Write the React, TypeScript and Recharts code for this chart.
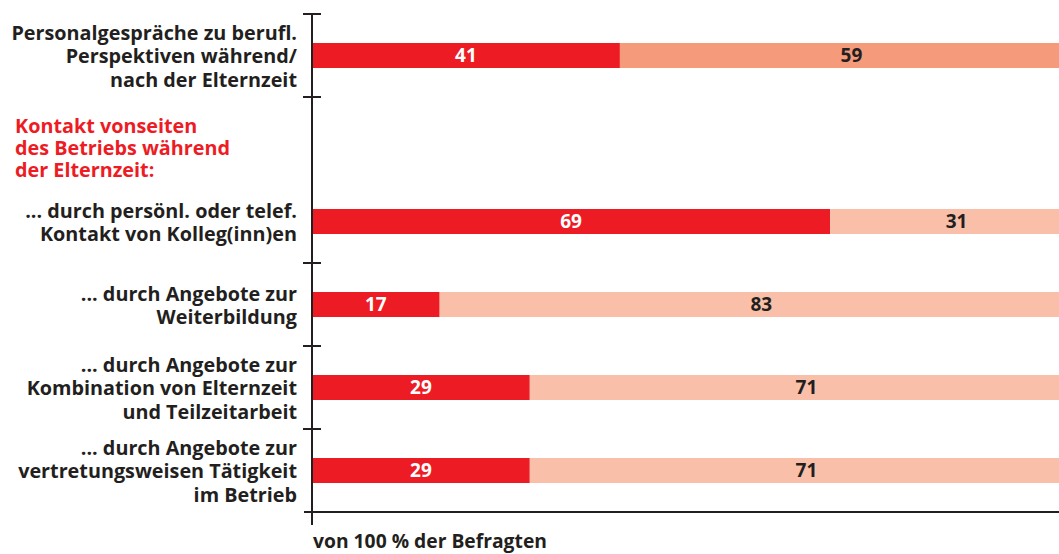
import React from 'react';
import { BarChart, Bar, XAxis, YAxis, Cell, LabelList, Label } from 'recharts';

const categories = [
  'Personalgespräche zu berufl.\nPerspektiven während/\nnach der Elternzeit',
  'Kontakt vonseiten\ndes Betriebs während\nder Elternzeit:',
  '... durch persönl. oder telef.\nKontakt von Kolleg(inn)en',
  '... durch Angebote zur\nWeiterbildung',
  '... durch Angebote zur\nKombination von Elternzeit\nund Teilzeitarbeit',
  '... durch Angebote zur\nvertretungsweisen Tätigkeit\nim Betrieb',
];
const yesValues: (number | null)[] = [41, null, 69, 17, 29, 29];
const noValues: (number | null)[] = [59, null, 31, 83, 71, 71];
const xAxisTitle = 'von 100 % der Befragten';

const data = categories.map((c, i) => ({ name: c, yes: yesValues[i], no: noValues[i] }));

const RED = '#ED1C24';
const SALMON_DARK = '#F69A7C';
const SALMON = '#F9BFA8';
const INK = '#231F20';
const FONT = '"Open Sans", "Noto Sans", sans-serif';

const CHART_W = 1063;
const CHART_H = 554;
const TOP = 14;
const X_AXIS_H = 42;
const Y_AXIS_W = 312;
const BAND = (CHART_H - TOP - X_AXIS_H) / categories.length;
const HEADER_INDEX = 1;
const NO_TOP_TICK = new Set([2]);

const YTick = (props: any) => {
  const { y, payload, index } = props;
  const ax = Y_AXIS_W;
  const lines = String(payload.value).split('\n');
  const isHeader = index === HEADER_INDEX;
  const lh = isHeader ? 22 : 23.5;
  const centerY = y + (isHeader ? 10 : 1);
  const startY = centerY - ((lines.length - 1) * lh) / 2;
  const isLast = index === categories.length - 1;
  const topY = y - BAND / 2;
  const botY = y + BAND / 2;
  return (
    <g>
      {!NO_TOP_TICK.has(index) && (
        <line x1={ax - 9} x2={ax + 9} y1={topY} y2={topY} stroke={INK} strokeWidth={2} />
      )}
      {isLast && (
        <g>
          <line x1={ax - 8} x2={ax + 9} y1={botY} y2={botY} stroke={INK} strokeWidth={2} />
          <line x1={ax} x2={ax} y1={botY} y2={botY + 13} stroke={INK} strokeWidth={2} />
        </g>
      )}
      {lines.map((l, i) => (
        <text
          key={i}
          x={isHeader ? 15 : ax - 15}
          y={startY + i * lh}
          dy="0.35em"
          textAnchor={isHeader ? 'start' : 'end'}
          fill={isHeader ? RED : INK}
          fontFamily={FONT}
          fontWeight={700}
          fontSize={19.8}
        >
          {l}
        </text>
      ))}
    </g>
  );
};

export default function App() {
  return (
    <div style={{ position: 'absolute', left: 0, top: 0, width: 1059, height: 554, overflow: 'hidden', background: '#fff' }}>
      <BarChart
        width={CHART_W}
        height={CHART_H}
        data={data}
        layout="vertical"
        margin={{ top: TOP, right: 0, left: 0, bottom: 0 }}
        barSize={25}
      >
        <XAxis
          type="number"
          domain={[0, 100]}
          ticks={[]}
          tick={false}
          tickLine={false}
          height={X_AXIS_H}
          axisLine={{ stroke: INK, strokeWidth: 2 }}
        >
          <Label
            content={() => (
              <text x={Y_AXIS_W + 1} y={548} fill={INK} fontFamily={FONT} fontWeight={700} fontSize={19.3}>
                {xAxisTitle}
              </text>
            )}
          />
        </XAxis>
        <YAxis
          type="category"
          dataKey="name"
          width={Y_AXIS_W}
          tickSize={0}
          tickMargin={0}
          tickLine={false}
          axisLine={{ stroke: INK, strokeWidth: 2 }}
          tick={<YTick />}
          interval={0}
        />
        <Bar dataKey="yes" stackId="a" fill={RED} isAnimationActive={false}>
          <LabelList dataKey="yes" position="center" fill="#fff" fontFamily={FONT} fontWeight={700} fontSize={19} />
        </Bar>
        <Bar dataKey="no" stackId="a" fill={SALMON} isAnimationActive={false}>
          {data.map((_, i) => (
            <Cell key={i} fill={i === 0 ? SALMON_DARK : SALMON} />
          ))}
          <LabelList dataKey="no" position="center" fill={INK} fontFamily={FONT} fontWeight={700} fontSize={19} dx={10} />
        </Bar>
      </BarChart>
    </div>
  );
}
